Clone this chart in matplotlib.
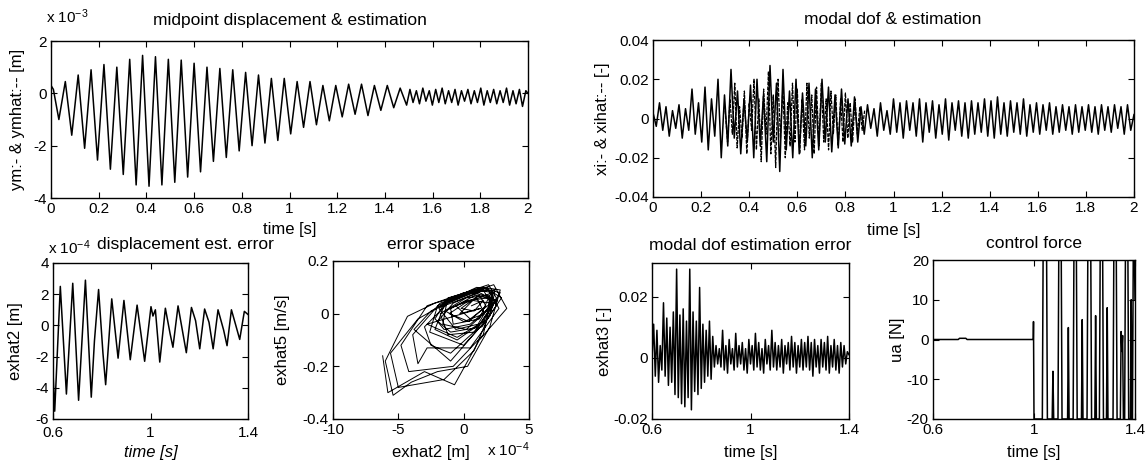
import matplotlib
matplotlib.use("Agg")
import matplotlib.pyplot as plt
import numpy as np

plt.rcParams['font.family'] = ['Liberation Sans', 'DejaVu Sans']
plt.rcParams['mathtext.fontset'] = 'custom'
plt.rcParams['mathtext.rm'] = 'Liberation Sans'
plt.rcParams['mathtext.it'] = 'Liberation Sans:italic'

# ---- midpoint displacement ym (x 1e-3 m), extrema
t_ym = [0.000, 0.010, 0.033, 0.060, 0.087, 0.114, 0.141, 0.168, 0.195, 0.222,
        0.249, 0.276, 0.303, 0.330, 0.357, 0.384, 0.411, 0.438, 0.465, 0.492,
        0.519, 0.546, 0.573, 0.600, 0.627, 0.654, 0.681, 0.708, 0.735, 0.762,
        0.789, 0.816, 0.843, 0.870, 0.897, 0.924, 0.951, 0.978, 1.005, 1.032,
        1.059, 1.086, 1.113, 1.140, 1.167, 1.194, 1.221, 1.248, 1.275, 1.302,
        1.329, 1.356, 1.383, 1.410, 1.437, 1.464, 1.491, 1.505, 1.518, 1.532,
        1.545, 1.559, 1.572, 1.586, 1.599, 1.613, 1.626, 1.640, 1.653, 1.667,
        1.680, 1.694, 1.707, 1.721, 1.734, 1.748, 1.761, 1.775, 1.788, 1.802,
        1.815, 1.829, 1.842, 1.856, 1.869, 1.883, 1.896, 1.910, 1.923, 1.937,
        1.950, 1.964, 1.977, 1.991, 2.000]
ym = [0.30, 0.15, -1.00, 0.45, -1.60, 0.70, -2.10, 0.90, -2.55, 1.10,
      -2.90, 1.00, -3.10, 1.30, -3.50, 1.45, -3.55, 1.40, -3.50, 1.30,
      -3.40, 1.27, -3.20, 1.15, -3.00, 1.00, -2.60, 0.95, -2.45, 0.90,
      -2.20, 0.80, -2.00, 0.70, -1.90, 0.57, -1.80, 0.57, -1.55, 0.45,
      -1.30, 0.45, -1.20, 0.30, -1.05, 0.30, -0.90, 0.35, -0.80, 0.35,
      -0.85, 0.30, -0.65, 0.30, -0.55, 0.20, -0.45, 0.15, -0.35, 0.10,
      -0.40, 0.20, -0.30, 0.10, -0.45, 0.15, -0.35, 0.20, -0.40, 0.10,
      -0.35, 0.15, -0.45, 0.10, -0.30, 0.15, -0.40, 0.10, -0.35, 0.20,
      -0.45, 0.10, -0.35, 0.15, -0.40, 0.10, -0.35, 0.20, -0.45, 0.10,
      -0.40, 0.15, -0.50, 0.10, 0.00]

# ---- modal dof xi [-], samples every ~0.0135 s over 0..2 s
xi = [0.003, -0.004, 0.008, -0.006, 0.006, -0.009, 0.004, -0.005, 0.007, -0.010,
      0.005, -0.006, 0.015, -0.008, 0.008, -0.012, 0.016, -0.016, 0.010, -0.009,
      0.020, -0.020, 0.012, -0.014, 0.025, -0.010, 0.014, -0.018, 0.010, -0.012,
      0.017, -0.020, 0.020, -0.014, 0.012, -0.022, 0.027, -0.012, 0.018, -0.027,
      0.025, -0.016, 0.014, -0.020, 0.020, -0.018, 0.013, -0.014, 0.018, -0.020,
      0.015, -0.016, 0.020, -0.012, 0.016, -0.017, 0.012, -0.015, 0.015, -0.013,
      0.010, -0.014, 0.011, -0.012, 0.006, -0.008, 0.007, -0.005, 0.005, -0.009,
      0.008, -0.006, 0.004, -0.008, 0.010, -0.007, 0.008, -0.010, 0.009, -0.006,
      0.008, -0.009, 0.010, -0.012, 0.008, -0.007, 0.009, -0.010, 0.007, -0.008,
      0.010, -0.011, 0.008, -0.006, 0.009, -0.009, 0.008, -0.010, 0.009, -0.008,
      0.008, -0.007, 0.010, -0.009, 0.009, -0.010, 0.011, -0.008, 0.008, -0.009,
      0.009, -0.007, 0.008, -0.008, 0.010, -0.009, 0.007, -0.007, 0.008, -0.008,
      0.007, -0.006, 0.008, -0.008, 0.006, -0.007, 0.007, -0.006, 0.006, -0.008,
      0.007, -0.007, 0.006, -0.006, 0.007, -0.007, 0.006, -0.008, 0.007, -0.006,
      0.006, -0.007, 0.007, -0.005, 0.006, -0.008, 0.007, -0.006, 0.002]

# ---- estimate xihat where it visibly departs from xi (0.30..0.88 s)
xihat_busy = [0.004, -0.012, 0.010, -0.008, 0.018, -0.015, 0.006, -0.010, 0.014, -0.018,
              0.008, -0.006, 0.020, -0.016, 0.010, -0.022, 0.015, -0.008, 0.024, -0.018,
              0.012, -0.025, 0.020, -0.010, 0.016, -0.020, 0.008, -0.014, 0.018, -0.012,
              0.015, -0.018, 0.010, -0.016, 0.018, -0.010, 0.012, -0.018, 0.016, -0.014,
              0.018, -0.012, 0.010, -0.016, 0.014, -0.008, 0.012, -0.014, 0.010, -0.012,
              0.013, -0.010, 0.008, -0.012, 0.010, -0.008, 0.006, -0.006, 0.004]

# ---- displacement estimation error exhat2 (x 1e-4 m)
t_e2 = [0.600, 0.607, 0.630, 0.655, 0.681, 0.705, 0.733, 0.757, 0.770, 0.787,
        0.805, 0.816, 0.841, 0.867, 0.891, 0.917, 0.945, 0.976, 1.002, 1.010,
        1.020, 1.038, 1.061, 1.080, 1.092, 1.113, 1.147, 1.168, 1.185, 1.202,
        1.222, 1.240, 1.257, 1.277, 1.300, 1.314, 1.332, 1.350, 1.366, 1.385,
        1.400]
exhat2 = [-3.0, -5.5, 2.5, -4.4, 2.7, -4.8, 2.9, -4.6, -1.0, 2.3,
          -1.8, -3.8, 1.7, -2.1, 1.6, -2.2, 1.3, -2.3, 1.2, 0.6,
          1.0, -2.35, 1.1, -0.5, -1.4, 1.25, -1.75, 1.15, 0.3, -1.5,
          1.05, 0.2, -1.5, 1.0, -0.3, -1.3, 1.0, 0.0, -0.9, 0.9,
          0.7]

# ---- error space: exhat2 (x 1e-4 m) vs exhat5 [m/s]
es_x = [-6.2, -5.8, -3.0, -0.7, 1.2, 3.3, 2.3, 0.5, -2.2, -4.3,
        -6.0, -5.4, -4.0, -2.0, 0.3, 2.0, 2.8, 1.5, -1.0, -3.5,
        -5.6, -5.0, -1.5, 0.8, 2.5, 1.9, -0.5, -2.8, -4.8, -4.2,
        -0.8, 1.5, 2.2, 1.0, -1.8, -3.9, -3.5, -2.8, 0.5, 2.7,
        1.8, -1.2, -3.0, -2.5, -1.0, 1.0, 2.4, 1.2, -1.5, -2.2,
        -0.5, 1.8, 2.0, 0.2, -1.8, -1.2, 0.8, 2.2, 1.5, -0.8,
        -2.0, -1.5, 0.5, 2.6, 0.9, -1.0, -0.8, 1.2, 1.9, 0.3,
        -1.4, 0.0, 1.6, 1.0, -0.6, 0.5, 2.1, 0.7, -0.3, 1.3,
        -2.8, -0.5, 1.5, 2.8, 1.0, -2.0, -2.6, 0.0, 2.0, 2.4,
        0.0, -2.5, -3.8, -1.0, 1.8, 2.9, 1.6, -1.2, -2.2, -1.0,
        1.4, 2.5, 1.9, -0.4, -1.9, -0.6, 1.1, 2.3, 0.6, -1.3,
        -1.6, 0.2, 2.0, 2.2, 0.1, -1.1, 0.4, 1.7, 1.2, -0.2,
        0.8, 1.5, 0.6]
es_y = [-0.16, -0.30, -0.22, -0.27, -0.10, 0.02, 0.11, 0.08, 0.04, -0.01,
        -0.18, -0.31, -0.26, -0.22, -0.20, -0.05, 0.09, 0.10, 0.05, -0.02,
        -0.15, -0.28, -0.25, -0.14, 0.06, 0.11, 0.07, 0.03, -0.12, -0.22,
        -0.20, -0.08, 0.08, 0.09, 0.04, -0.08, -0.19, -0.13, -0.13, 0.02,
        0.10, 0.04, -0.05, -0.12, -0.15, -0.06, 0.05, 0.08, 0.03, -0.06,
        -0.10, -0.02, 0.07, 0.06, 0.00, -0.08, -0.07, 0.03, 0.09, 0.04,
        -0.03, -0.06, -0.04, 0.05, 0.07, 0.02, -0.04, -0.02, 0.06, 0.05,
        0.01, -0.03, 0.00, 0.06, 0.03, -0.02, 0.04, 0.05, 0.00, 0.02,
        -0.04, -0.09, -0.03, 0.08, 0.10, 0.03, -0.07, -0.12, -0.01, 0.09,
        0.08, 0.01, -0.06, -0.18, -0.02, 0.06, 0.10, 0.06, -0.02, -0.07,
        -0.05, 0.03, 0.09, 0.07, 0.02, -0.06, -0.04, 0.06, 0.08, 0.04,
        -0.04, -0.06, 0.02, 0.08, 0.04, 0.00, -0.03, 0.03, 0.07, 0.02,
        0.01, 0.05, 0.03]

# ---- modal dof estimation error exhat3 [-], 0.6..1.4 s
exhat3 = [0.000, 0.011, -0.006, 0.009, -0.008, 0.004, -0.004, 0.018, -0.006, 0.013,
          -0.009, 0.010, -0.008, 0.015, -0.012, 0.029, -0.013, 0.014, -0.015, 0.016,
          -0.016, 0.012, -0.013, 0.029, -0.017, 0.015, -0.011, 0.012, -0.012, 0.023,
          -0.010, 0.011, -0.008, 0.009, -0.006, 0.012, -0.007, 0.007, -0.003, 0.004,
          -0.002, 0.003, -0.003, 0.009, -0.004, 0.004, -0.005, 0.006, -0.002, 0.003,
          -0.004, 0.008, -0.003, 0.004, -0.002, 0.005, -0.004, 0.003, -0.005, 0.006,
          -0.002, 0.004, -0.004, 0.008, -0.003, 0.005, -0.004, 0.003, -0.005, 0.006,
          -0.002, 0.004, -0.004, 0.009, -0.003, 0.005, -0.004, 0.004, -0.003, 0.006,
          -0.005, 0.004, -0.002, 0.005, -0.004, 0.007, -0.003, 0.005, -0.005, 0.004,
          -0.003, 0.006, -0.004, 0.005, -0.003, 0.007, -0.004, 0.005, -0.006, 0.006,
          -0.003, 0.004, -0.005, 0.006, -0.003, 0.005, -0.004, 0.007, -0.005, 0.004,
          -0.003, 0.006, -0.004, 0.004, -0.005, 0.005, -0.003, 0.004, -0.002, 0.002,
          0.001]

# ---- control force ua [N]
t_ua = [0.600, 0.700, 0.705, 0.730, 0.735, 0.997, 0.998, 1.000, 1.033, 1.036,
        1.050, 1.053, 1.072, 1.075, 1.078, 1.095, 1.098, 1.108, 1.111, 1.133,
        1.136, 1.139, 1.155, 1.158, 1.168, 1.171, 1.188, 1.191, 1.194, 1.210,
        1.213, 1.225, 1.228, 1.241, 1.244, 1.247, 1.259, 1.262, 1.272, 1.275,
        1.287, 1.290, 1.293, 1.313, 1.316, 1.326, 1.329, 1.342, 1.345, 1.348,
        1.351, 1.354, 1.359, 1.362, 1.372, 1.375, 1.382, 1.385, 1.388, 1.390,
        1.393, 1.398, 1.400]
ua = [0, 0, 0.3, 0.3, 0, 0, 4.5, -20, -20, 20,
      20, -20, -20, -8, -20, -20, 20, 20, -20, -20,
      3, -20, -20, 20, 20, -20, -20, 5, -20, -20,
      20, 20, -20, -20, 6, -20, -20, 20, 20, -20,
      -20, 8, -20, -20, 20, 20, -20, -20, 2, -3,
      1, -20, -20, 20, 20, -20, -20, 10, -20, -20,
      20, 20, 10]

W, H = 1147, 463
fig = plt.figure(figsize=(W / 100, H / 100), dpi=100)
FS_TICK = 11
FS_LAB = 12
FS_TITLE = 12.5


def add_ax(box):
    x0, x1, y0, y1 = box
    ax = fig.add_axes([x0 / W, 1 - y1 / H, (x1 - x0) / W, (y1 - y0) / H])
    ax.tick_params(direction='in', top=True, right=True, length=4, width=0.8,
                   labelsize=FS_TICK, pad=3)
    for s in ax.spines.values():
        s.set_linewidth(1.0)
    return ax


def labels(ax, box, title, title_xy, xlab, xlab_y, ylab, ylab_x, xstyle='normal'):
    x0, x1, y0, y1 = box
    fig.text(title_xy[0] / W, 1 - title_xy[1] / H, title, ha='center', va='center', fontsize=FS_TITLE)
    ax.set_xlabel(xlab, va='center', fontsize=FS_LAB, style=xstyle)
    ax.xaxis.set_label_coords(0.5, (y1 - xlab_y) / (y1 - y0))
    ax.set_ylabel(ylab, va='center', fontsize=FS_LAB)
    ax.yaxis.set_label_coords((ylab_x - x0) / (x1 - x0), 0.5)


lw = 1.1

# top-left
b1 = (51, 528, 41, 198)
ax1 = add_ax(b1)
ax1.plot(t_ym, ym, color='k', lw=lw)
ax1.set_xlim(0, 2)
ax1.set_ylim(-4, 2)
ax1.set_xticks([0, 0.2, 0.4, 0.6, 0.8, 1, 1.2, 1.4, 1.6, 1.8, 2])
ax1.set_xticklabels(['0', '0.2', '0.4', '0.6', '0.8', '1', '1.2', '1.4', '1.6', '1.8', '2'])
ax1.set_yticks([-4, -2, 0, 2])
ax1.set_yticklabels(['-4', '-2', '0', '2'])
labels(ax1, b1, 'midpoint displacement & estimation', (290, 20), 'time [s]', 229,
       'ym:- & ymhat:-- [m]', 18)
fig.text(46 / W, 1 - 17 / H, r'x 10$^{-3}$', ha='left', va='center', fontsize=FS_TICK)

# top-right
b2 = (653, 1134, 40, 197)
ax2 = add_ax(b2)
t_xi = np.linspace(0, 2, len(xi))
ax2.plot(t_xi, xi, color='k', lw=lw)
t_xihat = np.linspace(0.30, 0.88, len(xihat_busy))
ax2.plot(t_xihat, xihat_busy, color='k', lw=0.9, ls=(0, (3, 1)))
ax2.set_xlim(0, 2)
ax2.set_ylim(-0.04, 0.04)
ax2.set_xticks([0, 0.2, 0.4, 0.6, 0.8, 1, 1.2, 1.4, 1.6, 1.8, 2])
ax2.set_xticklabels(['0', '0.2', '0.4', '0.6', '0.8', '1', '1.2', '1.4', '1.6', '1.8', '2'])
ax2.set_yticks([-0.04, -0.02, 0, 0.02, 0.04])
ax2.set_yticklabels(['-0.04', '-0.02', '0', '0.02', '0.04'])
labels(ax2, b2, 'modal dof & estimation', (893, 20), 'time [s]', 231,
       'xi:- & xihat:-- [-]', 603)

# bottom-left
b3 = (53, 248, 263, 419)
ax3 = add_ax(b3)
ax3.plot(t_e2, exhat2, color='k', lw=lw)
ax3.set_xlim(0.6, 1.4)
ax3.set_ylim(-6, 4)
ax3.set_xticks([0.6, 1, 1.4])
ax3.set_xticklabels(['0.6', '1', '1.4'])
ax3.set_yticks([-6, -4, -2, 0, 2, 4])
ax3.set_yticklabels(['-6', '-4', '-2', '0', '2', '4'])
ax3.tick_params(axis='x', pad=5)
labels(ax3, b3, 'displacement est. error', (185, 245), 'time [s]', 453,
       'exhat2 [m]', 15, xstyle='italic')
fig.text(48 / W, 1 - 248 / H, r'x 10$^{-4}$', ha='left', va='center', fontsize=FS_TICK)

# error space
b4 = (333, 529, 261, 419)
ax4 = add_ax(b4)
ax4.plot(es_x, es_y, color='k', lw=0.7)
ax4.set_xlim(-10, 5)
ax4.set_ylim(-0.4, 0.2)
ax4.set_xticks([-10, -5, 0, 5])
ax4.set_xticklabels(['-10', '-5', '0', '5'])
ax4.set_yticks([-0.4, -0.2, 0, 0.2])
ax4.set_yticklabels(['-0.4', '-0.2', '0', '0.2'])
labels(ax4, b4, 'error space', (431, 244), 'exhat2 [m]', 452,
       'exhat5 [m/s]', 282)
fig.text(487 / W, 1 - 450 / H, r'x 10$^{-4}$', ha='left', va='center', fontsize=FS_TICK)

# modal dof estimation error
b5 = (652, 849, 263, 419)
ax5 = add_ax(b5)
t_e3 = np.linspace(0.6, 1.4, len(exhat3))
ax5.plot(t_e3, exhat3, color='k', lw=lw)
ax5.set_xlim(0.6, 1.4)
ax5.set_ylim(-0.02, 0.031)
ax5.set_xticks([0.6, 1, 1.4])
ax5.set_xticklabels(['0.6', '1', '1.4'])
ax5.set_yticks([-0.02, 0, 0.02])
ax5.set_yticklabels(['-0.02', '0', '0.02'])
labels(ax5, b5, 'modal dof estimation error', (750, 246), 'time [s]', 453,
       'exhat3 [-]', 605)

# control force
b6 = (933, 1135, 260, 419)
ax6 = add_ax(b6)
ax6.plot(t_ua, ua, color='k', lw=lw)
ax6.set_xlim(0.6, 1.4)
ax6.set_ylim(-20, 20)
ax6.set_xticks([0.6, 1, 1.4])
ax6.set_xticklabels(['0.6', '1', '1.4'])
ax6.set_yticks([-20, -10, 0, 10, 20])
ax6.set_yticklabels(['-20', '-10', '0', '10', '20'])
labels(ax6, b6, 'control force', (1034, 244), 'time [s]', 453,
       'ua [N]', 898)

fig.savefig('out.png', dpi=100)
